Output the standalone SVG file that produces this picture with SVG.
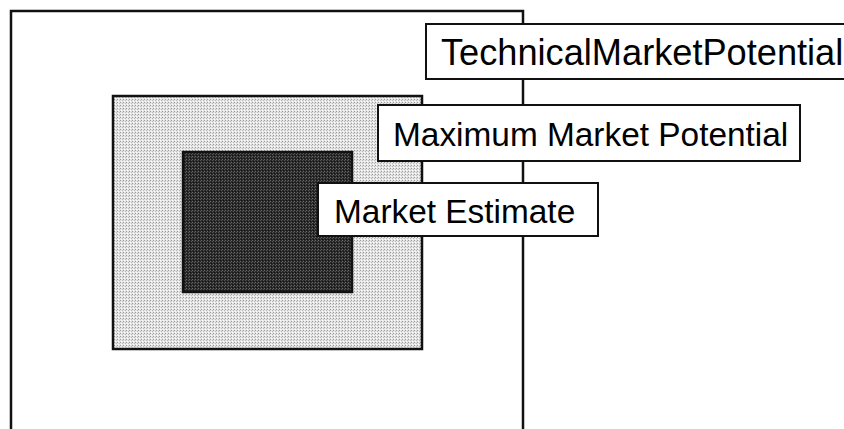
<svg xmlns="http://www.w3.org/2000/svg" width="844" height="429" viewBox="0 0 844 429">
  <defs>
    <style>
      .frame { stroke: #111; stroke-width: 2.5; }
      .label-box { fill: #fff; stroke: #111; stroke-width: 2; }
      .label { font-family: "Liberation Sans", Arial, sans-serif; font-size: 33.4px; fill: #000; }
      .label-wide { font-size: 36.2px; }
    </style>
    <!-- fine dither textures for the nested market areas -->
    <pattern id="dither-light" width="3" height="3" patternUnits="userSpaceOnUse">
      <rect width="3" height="3" fill="#e4e4e4"/>
      <rect x="0" y="0" width="1" height="1" fill="#9a9a9a"/>
      <rect x="2" y="1" width="1" height="1" fill="#bcbcbc"/>
      <rect x="1" y="2" width="1" height="1" fill="#ffffff"/>
    </pattern>
    <pattern id="dither-dark" width="3" height="3" patternUnits="userSpaceOnUse">
      <rect width="3" height="3" fill="#2a2a2a"/>
      <rect x="0" y="0" width="1" height="1" fill="#6a6a6a"/>
      <rect x="2" y="1" width="1" height="1" fill="#555555"/>
      <rect x="1" y="2" width="1" height="1" fill="#111111"/>
    </pattern>
  </defs>

  <rect width="844" height="429" fill="#fff"/>

  <!-- outermost area: technical market potential -->
  <g id="technical-area">
    <rect class="frame" x="11" y="11" width="512" height="440" fill="#fff"/>
  </g>

  <!-- middle area: maximum market potential -->
  <g id="maximum-area">
    <rect class="frame" x="113" y="96" width="309" height="253" fill="url(#dither-light)"/>
  </g>

  <!-- inner area: market estimate -->
  <g id="estimate-area">
    <rect class="frame" x="183" y="152" width="169" height="140" fill="url(#dither-dark)"/>
  </g>

  <g id="technical-label">
    <rect class="label-box" x="426" y="24" width="430" height="55"/>
    <text class="label label-wide" x="441" y="65">TechnicalMarketPotential</text>
  </g>

  <g id="maximum-label">
    <rect class="label-box" x="378" y="105" width="422" height="56"/>
    <text class="label" x="393" y="146">Maximum Market Potential</text>
  </g>

  <g id="estimate-label">
    <rect class="label-box" x="318" y="183" width="280" height="53"/>
    <text class="label" x="334" y="223">Market Estimate</text>
  </g>
</svg>
